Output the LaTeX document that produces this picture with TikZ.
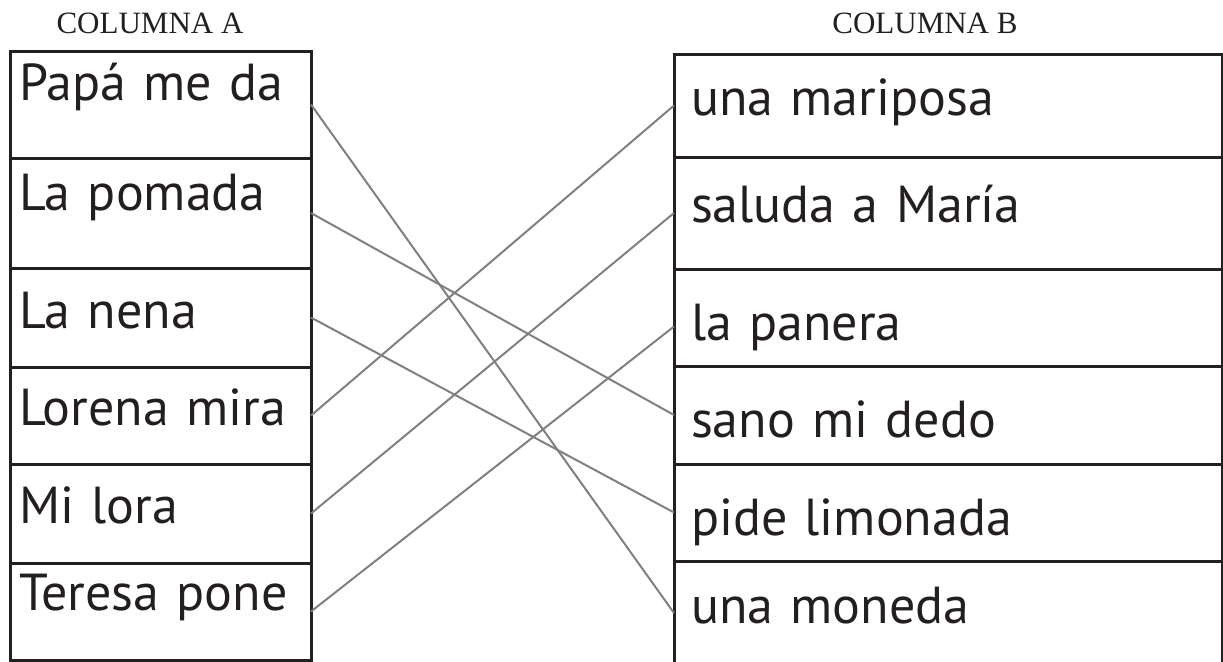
\documentclass[tikz,border=0pt]{standalone}
\usepackage{fontspec}
\usetikzlibrary{positioning}
\newfontfamily\boxfont{PT Sans}
\newfontfamily\headfont{Liberation Serif}
\definecolor{ink}{HTML}{231F20}

\begin{document}
\begin{tikzpicture}[x=0.5pt, y=-0.5pt,
    head/.style={font=\headfont\fontsize{15.5pt}{18pt}\selectfont, text=ink, inner sep=0pt},
    cell/.style={draw=ink, line width=1.5pt, outer sep=0pt, inner ysep=0pt,
                 align=left, text=ink, font=\boxfont\fontsize{26pt}{30pt}\selectfont},
    colA/.style 2 args={cell, inner xsep=4.5pt, text width=141.5pt,
                        text height=#1pt, text depth=#2pt},
    colB/.style 2 args={cell, inner xsep=8.5pt, text width=257pt,
                        text height=#1pt, text depth=#2pt},
    link/.style={draw=gray, line width=1pt}]
  \useasboundingbox (0,0) rectangle (1223,661);

  \node[head] (hA) at (150,23) {COLUMNA A};
  \node[head] (hB) at (925,23) {COLUMNA B};

  % columna A
  \node[colA={24.5}{29}, anchor=north west] (pap) at (10,51) {Papá me da};
  \node[colA={26}{29}, below=0pt of pap] (pom) {La pomada};
  \node[colA={30}{19.5}, below=0pt of pom] (nen) {La nena};
  \node[colA={29}{19.5}, below=0pt of nen] (lor) {Lorena mira};
  \node[colA={29.5}{20}, below=0pt of lor] (mil) {Mi lora};
  \node[colA={23.5}{25}, below=0pt of mil] (ter) {Teresa pone};

  % columna B
  \node[colB={30.5}{21}, anchor=north west] (mar) at (674,54) {una mariposa};
  \node[colB={32.5}{23.5}, below=0pt of mar] (sal) {saluda a María};
  \node[colB={35.5}{13}, below=0pt of sal] (pan) {la panera};
  \node[colB={35.5}{13.5}, below=0pt of pan] (san) {sano mi dedo};
  \node[colB={35.5}{13}, below=0pt of san] (pid) {pide limonada};
  \node[colB={31}{21}, below=0pt of pid] (mon) {una moneda};

  \draw[link] (pap.east) -- (mon.west);
  \draw[link] (pom.east) -- (san.west);
  \draw[link] (nen.east) -- (pid.west);
  \draw[link] (lor.east) -- (mar.west);
  \draw[link] (mil.east) -- (sal.west);
  \draw[link] (ter.east) -- ([yshift=-4.5pt]pan.west);
\end{tikzpicture}
\end{document}
